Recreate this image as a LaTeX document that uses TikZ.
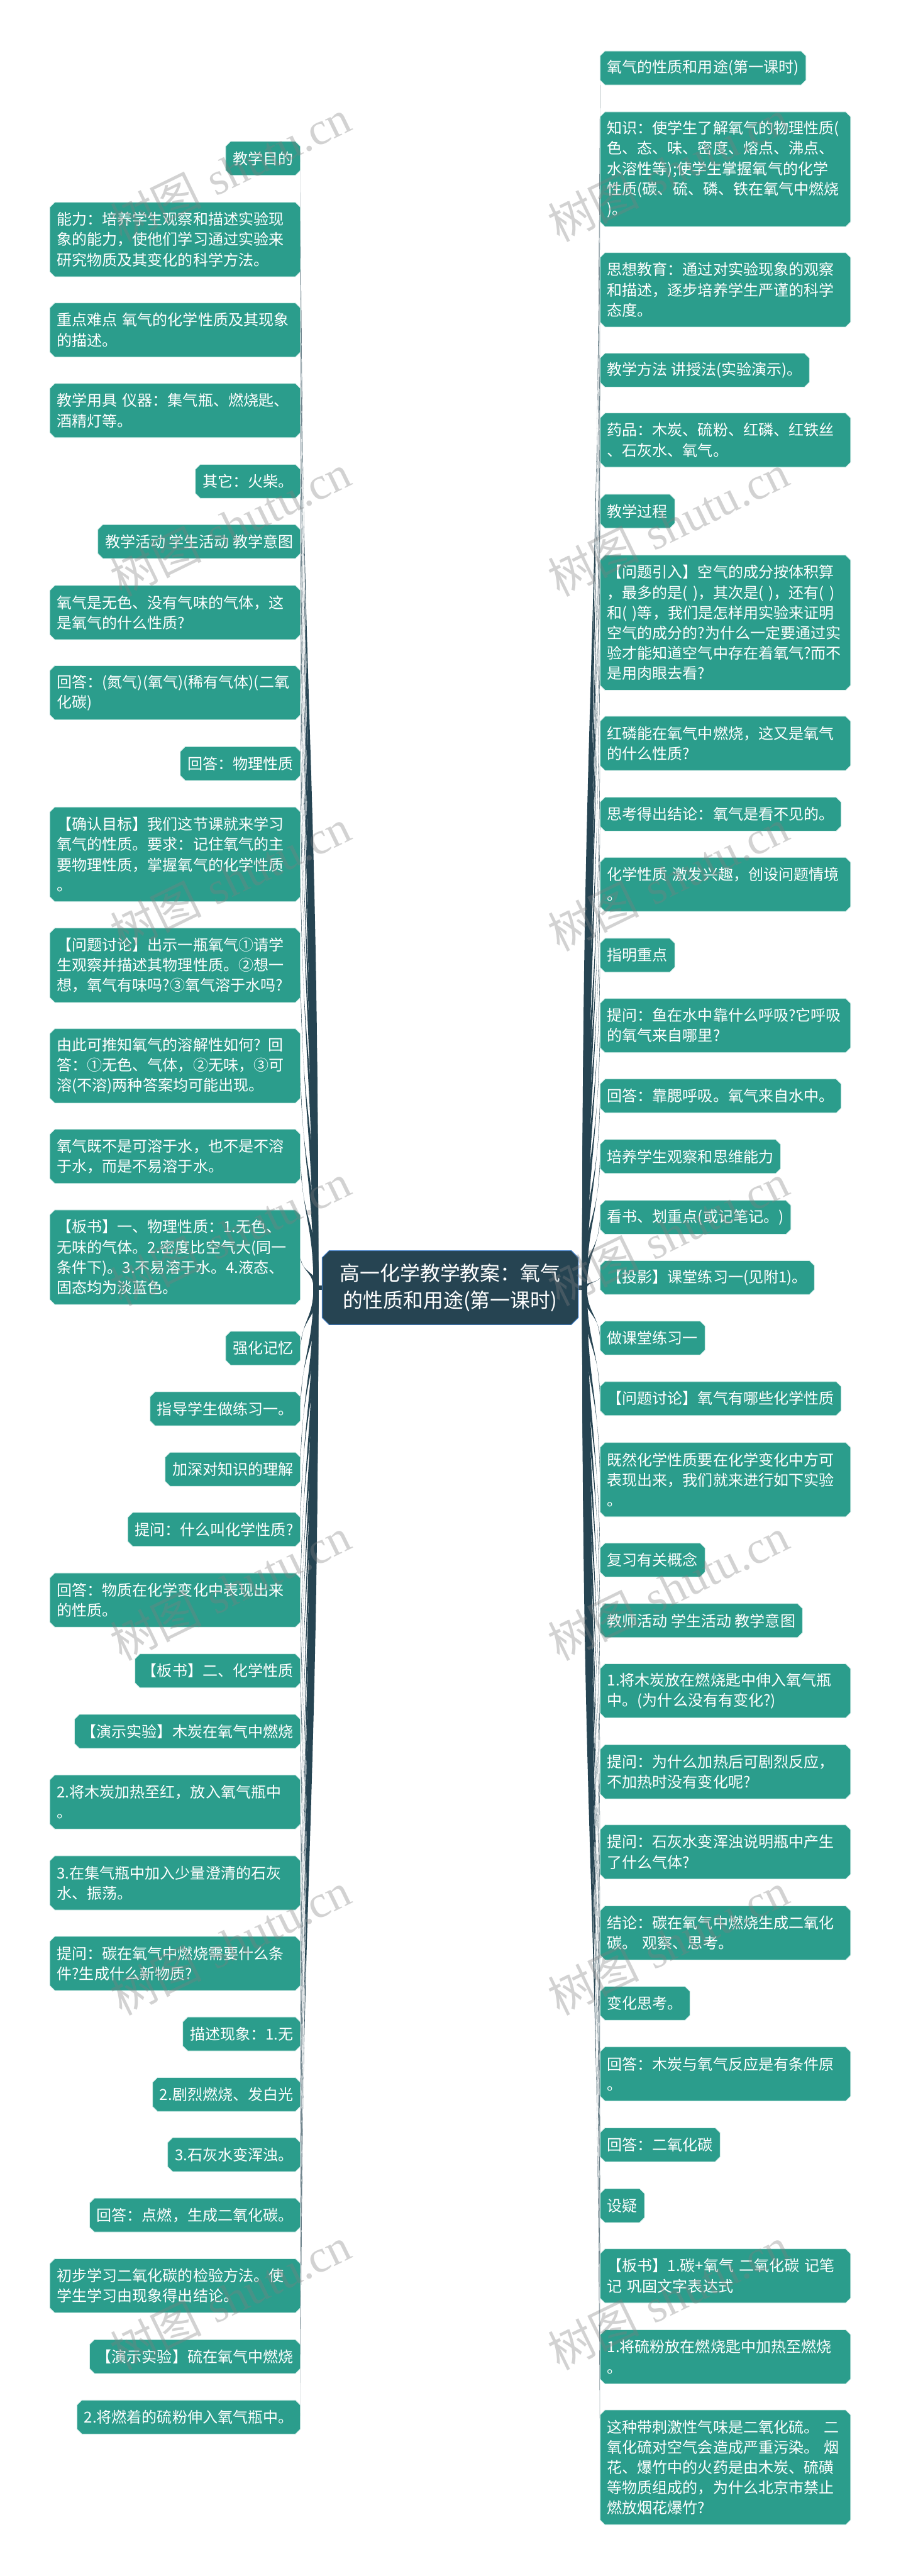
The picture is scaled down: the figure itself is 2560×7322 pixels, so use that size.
\documentclass[tikz,border=0pt]{standalone}
\usepackage{fontspec}
\newfontfamily\cjk{Noto Sans CJK SC}
\newfontfamily\wmser{Liberation Serif}
\usetikzlibrary{calc}
\pgfdeclarelayer{bg}
\pgfdeclarelayer{paper}
\pgfsetlayers{paper,bg,main}
\definecolor{teal1}{RGB}{43,157,140}
\definecolor{slate1}{RGB}{38,68,82}
\definecolor{edge1}{RGB}{215,238,234}
\definecolor{blueedge}{RGB}{70,130,200}
\newcommand\chamfer[3]{%
  \path[#1] ([xshift=#3]#2.north west) -- ([xshift=-#3]#2.north east)
   -- ([yshift=-#3]#2.north east) -- ([yshift=#3]#2.south east)
   -- ([xshift=-#3]#2.south east) -- ([xshift=#3]#2.south west)
   -- ([yshift=#3]#2.south west) -- ([yshift=-#3]#2.north west) -- cycle;}
\newcommand\lconn[1]{%
  \fill[linkc] let \p1=(hubL), \p2=(#1.east) in
   (\x1-7pt,\y1) .. controls (\x1-7pt,{0.5*(\y1)+0.5*(\y2)}) and ({\x2+7pt},{0.5*(\y1)+0.5*(\y2)}) .. (\x2,\y2)
   .. controls ({\x2+2pt},{0.5*(\y1)+0.5*(\y2)}) and (\x1+7pt,{0.5*(\y1)+0.5*(\y2)}) .. (\x1+7pt,\y1) -- cycle;}
\newcommand\rconn[1]{%
  \fill[linkc] let \p1=(hubR), \p2=(#1.west) in
   (\x1+7pt,\y1) .. controls (\x1+7pt,{0.5*(\y1)+0.5*(\y2)}) and ({\x2-7pt},{0.5*(\y1)+0.5*(\y2)}) .. (\x2,\y2)
   .. controls ({\x2-2pt},{0.5*(\y1)+0.5*(\y2)}) and (\x1-7pt,{0.5*(\y1)+0.5*(\y2)}) .. (\x1-7pt,\y1) -- cycle;}
\tikzset{
  box/.style={rectangle, inner xsep=20pt, inner ysep=0pt, minimum height=96pt,
    text=white, font=\cjk\fontsize{43pt}{57.5pt}\selectfont},
  wide/.style={box, text width=672pt, align=left, execute at begin node={\parindent=0pt}},
  nl/.style={minimum height={(#1-1)*57.5pt+96pt}},
  lft/.style={anchor=north east},
  rgt/.style={anchor=north west},
  linkc/.style={fill=slate1},
  boxfill/.style={fill=teal1, draw=edge1, line width=1.5pt},
  cfill/.style={fill=slate1, draw=blueedge, line width=2pt},
  centerbox/.style={rectangle, inner sep=0pt, text=white, align=center,
    minimum width=728pt, minimum height=210pt,
    font=\cjk\fontsize{57pt}{77pt}\selectfont},
  wm/.style={text=gray, opacity=0.35, font=\fontsize{130pt}{130pt}\selectfont,
    rotate=26, anchor=base west, inner sep=0pt},
}
\begin{document}
\begin{tikzpicture}[x=1pt,y=-1pt]
\useasboundingbox (0,0) rectangle (2560,7322);
\begin{pgfonlayer}{paper}
\fill[white] (0,0) rectangle (2560,7322);
\end{pgfonlayer}

\node[centerbox] (C) at (1280,3660) {高一化学教学教案：氧气\\的性质和用途(第一课时)};
\coordinate (hubL) at (898,3660);
\coordinate (hubR) at (1662,3660);

% left column
\node[box,lft] (L1) at (854,402) {教学目的};
\node[wide,lft,nl=3] (L2) at (854,575) {能力：培养学生观察和描述实验现\\象的能力，使他们学习通过实验来\\研究物质及其变化的科学方法。};
\node[wide,lft,nl=2] (L3) at (854,861) {重点难点 氧气的化学性质及其现象\\的描述。};
\node[wide,lft,nl=2] (L4) at (854,1090) {教学用具 仪器：集气瓶、燃烧匙、\\酒精灯等。};
\node[box,lft] (L5) at (854,1320) {其它：火柴。};
\node[box,lft] (L6) at (854,1491) {教学活动 学生活动 教学意图};
\node[wide,lft,nl=2] (L7) at (854,1664) {氧气是无色、没有气味的气体，这\\是氧气的什么性质?};
\node[wide,lft,nl=2] (L8) at (854,1892) {回答：(氮气)(氧气)(稀有气体)(二氧\\化碳)};
\node[box,lft] (L9) at (854,2122) {回答：物理性质};
\node[wide,lft,nl=4] (L10) at (854,2294) {【确认目标】我们这节课就来学习\\氧气的性质。要求：记住氧气的主\\要物理性质，掌握氧气的化学性质\\。};
\node[wide,lft,nl=3] (L11) at (854,2638) {【问题讨论】出示一瓶氧气①请学\\生观察并描述其物理性质。②想一\\想，氧气有味吗?③氧气溶于水吗?};
\node[wide,lft,nl=3] (L12) at (854,2924) {由此可推知氧气的溶解性如何? 回\\答：①无色、气体，②无味，③可\\溶(不溶)两种答案均可能出现。};
\node[wide,lft,nl=2] (L13) at (854,3210) {氧气既不是可溶于水，也不是不溶\\于水，而是不易溶于水。};
\node[wide,lft,nl=4] (L14) at (854,3439) {【板书】一、物理性质：1.无色、\\无味的气体。2.密度比空气大(同一\\条件下)。3.不易溶于水。4.液态、\\固态均为淡蓝色。};
\node[box,lft] (L15) at (854,3784) {强化记忆};
\node[box,lft] (L16) at (854,3956) {指导学生做练习一。};
\node[box,lft] (L17) at (854,4128) {加深对知识的理解};
\node[box,lft] (L18) at (854,4299) {提问：什么叫化学性质?};
\node[wide,lft,nl=2] (L19) at (854,4471) {回答：物质在化学变化中表现出来\\的性质。};
\node[box,lft] (L20) at (854,4701) {【板书】二、化学性质};
\node[box,lft] (L21) at (854,4873) {【演示实验】木炭在氧气中燃烧};
\node[wide,lft,nl=2] (L22) at (854,5045) {2.将木炭加热至红，放入氧气瓶中\\。};
\node[wide,lft,nl=2] (L23) at (854,5275) {3.在集气瓶中加入少量澄清的石灰\\水、振荡。};
\node[wide,lft,nl=2] (L24) at (854,5504) {提问：碳在氧气中燃烧需要什么条\\件?生成什么新物质?};
\node[box,lft] (L25) at (854,5733) {描述现象：1.无};
\node[box,lft] (L26) at (854,5905) {2.剧烈燃烧、发白光};
\node[box,lft] (L27) at (854,6076) {3.石灰水变浑浊。};
\node[box,lft] (L28) at (854,6248) {回答：点燃，生成二氧化碳。};
\node[wide,lft,nl=2] (L29) at (854,6420) {初步学习二氧化碳的检验方法。使\\学生学习由现象得出结论。};
\node[box,lft] (L30) at (854,6650) {【演示实验】硫在氧气中燃烧};
\node[box,lft] (L31) at (854,6822) {2.将燃着的硫粉伸入氧气瓶中。};

% right column
\node[box,rgt] (R1) at (1706,145) {氧气的性质和用途(第一课时)};
\node[wide,rgt,nl=5] (R2) at (1706,318) {知识：使学生了解氧气的物理性质(\\色、态、味、密度、熔点、沸点、\\水溶性等);使学生掌握氧气的化学\\性质(碳、硫、磷、铁在氧气中燃烧\\)。};
\node[wide,rgt,nl=3] (R3) at (1706,718) {思想教育：通过对实验现象的观察\\和描述，逐步培养学生严谨的科学\\态度。};
\node[box,rgt] (R4) at (1706,1004) {教学方法 讲授法(实验演示)。};
\node[wide,rgt,nl=2] (R5) at (1706,1174) {药品：木炭、硫粉、红磷、红铁丝\\、石灰水、氧气。};
\node[box,rgt] (R6) at (1706,1405) {教学过程};
\node[wide,rgt,nl=6] (R7) at (1706,1578) {【问题引入】空气的成分按体积算\\，最多的是( )，其次是( )，还有( )\\和( )等，我们是怎样用实验来证明\\空气的成分的?为什么一定要通过实\\验才能知道空气中存在着氧气?而不\\是用肉眼去看?};
\node[wide,rgt,nl=2] (R8) at (1706,2036) {红磷能在氧气中燃烧，这又是氧气\\的什么性质?};
\node[box,rgt] (R9) at (1706,2266) {思考得出结论：氧气是看不见的。};
\node[wide,rgt,nl=2] (R10) at (1706,2437) {化学性质 激发兴趣，创设问题情境\\。};
\node[box,rgt] (R11) at (1706,2667) {指明重点};
\node[wide,rgt,nl=2] (R12) at (1706,2838) {提问：鱼在水中靠什么呼吸?它呼吸\\的氧气来自哪里?};
\node[box,rgt] (R13) at (1706,3067) {回答：靠腮呼吸。氧气来自水中。};
\node[box,rgt] (R14) at (1706,3239) {培养学生观察和思维能力};
\node[box,rgt] (R15) at (1706,3412) {看书、划重点(或记笔记。)};
\node[box,rgt] (R16) at (1706,3583) {【投影】课堂练习一(见附1)。};
\node[box,rgt] (R17) at (1706,3755) {做课堂练习一};
\node[box,rgt] (R18) at (1706,3927) {【问题讨论】氧气有哪些化学性质};
\node[wide,rgt,nl=3] (R19) at (1706,4100) {既然化学性质要在化学变化中方可\\表现出来，我们就来进行如下实验\\。};
\node[box,rgt] (R20) at (1706,4386) {复习有关概念};
\node[box,rgt] (R21) at (1706,4558) {教师活动 学生活动 教学意图};
\node[wide,rgt,nl=2] (R22) at (1706,4729) {1.将木炭放在燃烧匙中伸入氧气瓶\\中。(为什么没有有变化?)};
\node[wide,rgt,nl=2] (R23) at (1706,4959) {提问：为什么加热后可剧烈反应，\\不加热时没有变化呢?};
\node[wide,rgt,nl=2] (R24) at (1706,5187) {提问：石灰水变浑浊说明瓶中产生\\了什么气体?};
\node[wide,rgt,nl=2] (R25) at (1706,5417) {结论：碳在氧气中燃烧生成二氧化\\碳。 观察、思考。};
\node[box,rgt] (R26) at (1706,5646) {变化思考。};
\node[wide,rgt,nl=2] (R27) at (1706,5818) {回答：木炭与氧气反应是有条件原\\。};
\node[box,rgt] (R28) at (1706,6048) {回答：二氧化碳};
\node[box,rgt] (R29) at (1706,6221) {设疑};
\node[wide,rgt,nl=2] (R30) at (1706,6392) {【板书】1.碳+氧气 二氧化碳 记笔\\记 巩固文字表达式};
\node[wide,rgt,nl=2] (R31) at (1706,6622) {1.将硫粉放在燃烧匙中加热至燃烧\\。};
\node[wide,rgt,nl=5] (R32) at (1706,6850) {这种带刺激性气味是二氧化硫。 二\\氧化硫对空气会造成严重污染。 烟\\花、爆竹中的火药是由木炭、硫磺\\等物质组成的，为什么北京市禁止\\燃放烟花爆竹?};

\begin{pgfonlayer}{bg}
  \draw[slate1, line width=14pt] (C.west) -- (hubL);
  \draw[slate1, line width=14pt] (C.east) -- (hubR);
  \foreach \i in {1,...,31} {\lconn{L\i}}
  \foreach \i in {1,...,32} {\rconn{R\i}}
  \foreach \i in {1,...,31} {\chamfer{boxfill}{L\i}{14pt}}
  \foreach \i in {1,...,32} {\chamfer{boxfill}{R\i}{14pt}}
  \chamfer{cfill}{C}{20pt}
\end{pgfonlayer}

% watermarks
\foreach \k in {0,...,6} {
  \node[wm] (WL\k) at (345,{690+1008*\k}) {{\cjk 树图} {\wmser shutu.cn}};
  \node[wm] (WR\k) at (1590,{690+1008*\k}) {{\cjk 树图} {\wmser shutu.cn}};
}
\end{tikzpicture}
\end{document}
